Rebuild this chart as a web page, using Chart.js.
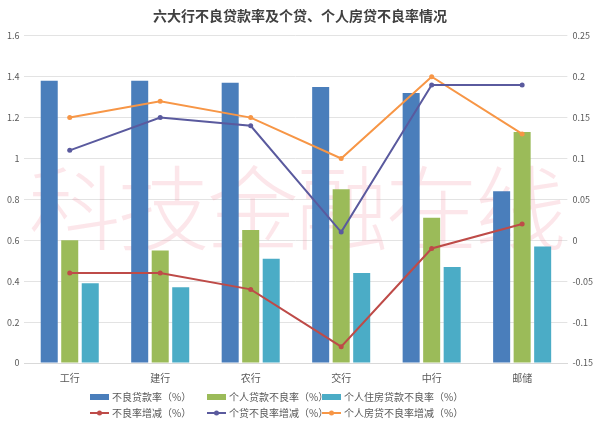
<!DOCTYPE html>
<html>
<head>
<meta charset="utf-8">
<script src="https://cdn.jsdelivr.net/npm/chart.js@4"></script>
<style>
  html, body { margin: 0; padding: 0; background: #fff; }
  #wrap { width: 600px; height: 423px; }
</style>
</head>
<body>
<div id="wrap"><canvas id="chart"></canvas></div>
<script>
var banks = ['工行', '建行', '农行', '交行', '中行', '邮储'];
var nplRate = [1.38, 1.38, 1.37, 1.35, 1.32, 0.84];
var personalNpl = [0.60, 0.55, 0.65, 0.85, 0.71, 1.13];
var mortgageNpl = [0.39, 0.37, 0.51, 0.44, 0.47, 0.57];
var nplChange = [-0.04, -0.04, -0.06, -0.13, -0.01, 0.02];
var personalChange = [0.11, 0.15, 0.14, 0.01, 0.19, 0.19];
var mortgageChange = [0.15, 0.17, 0.15, 0.10, 0.20, 0.13];

var FONT = '"Noto Sans CJK SC", "Noto Sans", sans-serif';
var GREY = '#595959';

// plain number labels, no trailing zeros (1, 0.2, -0.05)
function plainTick(v) {
  return String(+v.toFixed(2));
}

// watermark behind the marks
var watermark = {
  id: 'watermark',
  beforeDatasetsDraw: function(chart) {
    var ctx = chart.ctx;
    var text = '科技金融在线';
    ctx.save();
    ctx.font = '300 92px ' + FONT;
    ctx.fillStyle = 'rgba(240, 140, 160, 0.22)';
    ctx.textAlign = 'center';
    ctx.textBaseline = 'middle';
    var left = 30, right = 565;
    var step = (right - left) / text.length;
    for (var i = 0; i < text.length; i++) {
      ctx.fillText(text[i], left + step * (i + 0.5), 208);
    }
    ctx.restore();
  }
};

// two-row legend with fixed columns
var gridLegend = {
  id: 'gridLegend',
  afterDraw: function(chart) {
    var ctx = chart.ctx;
    var cols = [90, 207, 322];
    var rows = [397, 413];
    ctx.save();
    ctx.font = '10px ' + FONT;
    ctx.textBaseline = 'middle';
    chart.data.datasets.forEach(function(ds, i) {
      var x = cols[i % 3], y = rows[Math.floor(i / 3)];
      if (ds.type === 'line') {
        ctx.strokeStyle = ds.borderColor;
        ctx.lineWidth = 2;
        ctx.beginPath();
        ctx.moveTo(x, y);
        ctx.lineTo(x + 19, y);
        ctx.stroke();
        ctx.fillStyle = ds.borderColor;
        ctx.beginPath();
        ctx.arc(x + 9.5, y, 2.5, 0, Math.PI * 2);
        ctx.fill();
      } else {
        ctx.fillStyle = ds.backgroundColor;
        ctx.fillRect(x, y - 3, 19, 6);
      }
      ctx.fillStyle = GREY;
      ctx.fillText(ds.label, x + 22, y);
    });
    ctx.restore();
  }
};

function lineSet(label, data, color) {
  return {
    type: 'line', label: label, data: data, yAxisID: 'y1',
    borderColor: color, backgroundColor: color,
    borderWidth: 2, pointRadius: 2.5, pointHoverRadius: 2.5,
    pointBorderWidth: 0, pointBackgroundColor: color, tension: 0, order: 0
  };
}
function barSet(label, data, color) {
  return {
    type: 'bar', label: label, data: data, yAxisID: 'y',
    backgroundColor: color, borderWidth: 0,
    barPercentage: 0.83, categoryPercentage: 0.68, order: 1
  };
}

new Chart(document.getElementById('chart'), {
  data: {
    labels: banks,
    datasets: [
      barSet('不良贷款率（%）', nplRate, '#4a7ebb'),
      barSet('个人贷款不良率（%）', personalNpl, '#9bbb59'),
      barSet('个人住房贷款不良率（%）', mortgageNpl, '#4bacc6'),
      lineSet('不良率增减（%）', nplChange, '#be4b48'),
      lineSet('个贷不良率增减（%）', personalChange, '#5a5a9e'),
      lineSet('个人房贷不良率增减（%）', mortgageChange, '#f79646')
    ]
  },
  options: {
    responsive: true,
    maintainAspectRatio: false,
    animation: false,
    layout: { padding: { left: 2, right: 2, top: 1, bottom: 38 } },
    plugins: {
      legend: { display: false },
      tooltip: { enabled: false },
      title: {
        display: true,
        text: '六大行不良贷款率及个贷、个人房贷不良率情况',
        color: '#404040',
        font: { family: FONT, size: 14, weight: 'bold' },
        padding: { top: 6, bottom: 12 }
      }
    },
    scales: {
      x: {
        grid: { display: false },
        border: { color: '#d9d9d9' },
        ticks: { color: GREY, font: { family: FONT, size: 10 }, padding: 1 }
      },
      y: {
        position: 'left',
        min: 0, max: 1.6,
        ticks: { stepSize: 0.2, color: GREY, font: { family: FONT, size: 9 }, padding: 5, callback: plainTick },
        grid: { color: '#e3e3e3', drawTicks: false },
        border: { display: false }
      },
      y1: {
        position: 'right',
        min: -0.15, max: 0.25,
        ticks: { stepSize: 0.05, color: GREY, font: { family: FONT, size: 9 }, padding: 5, callback: plainTick },
        grid: { display: false, drawTicks: false },
        border: { display: false }
      }
    }
  },
  plugins: [watermark, gridLegend]
});
</script>
</body>
</html>
